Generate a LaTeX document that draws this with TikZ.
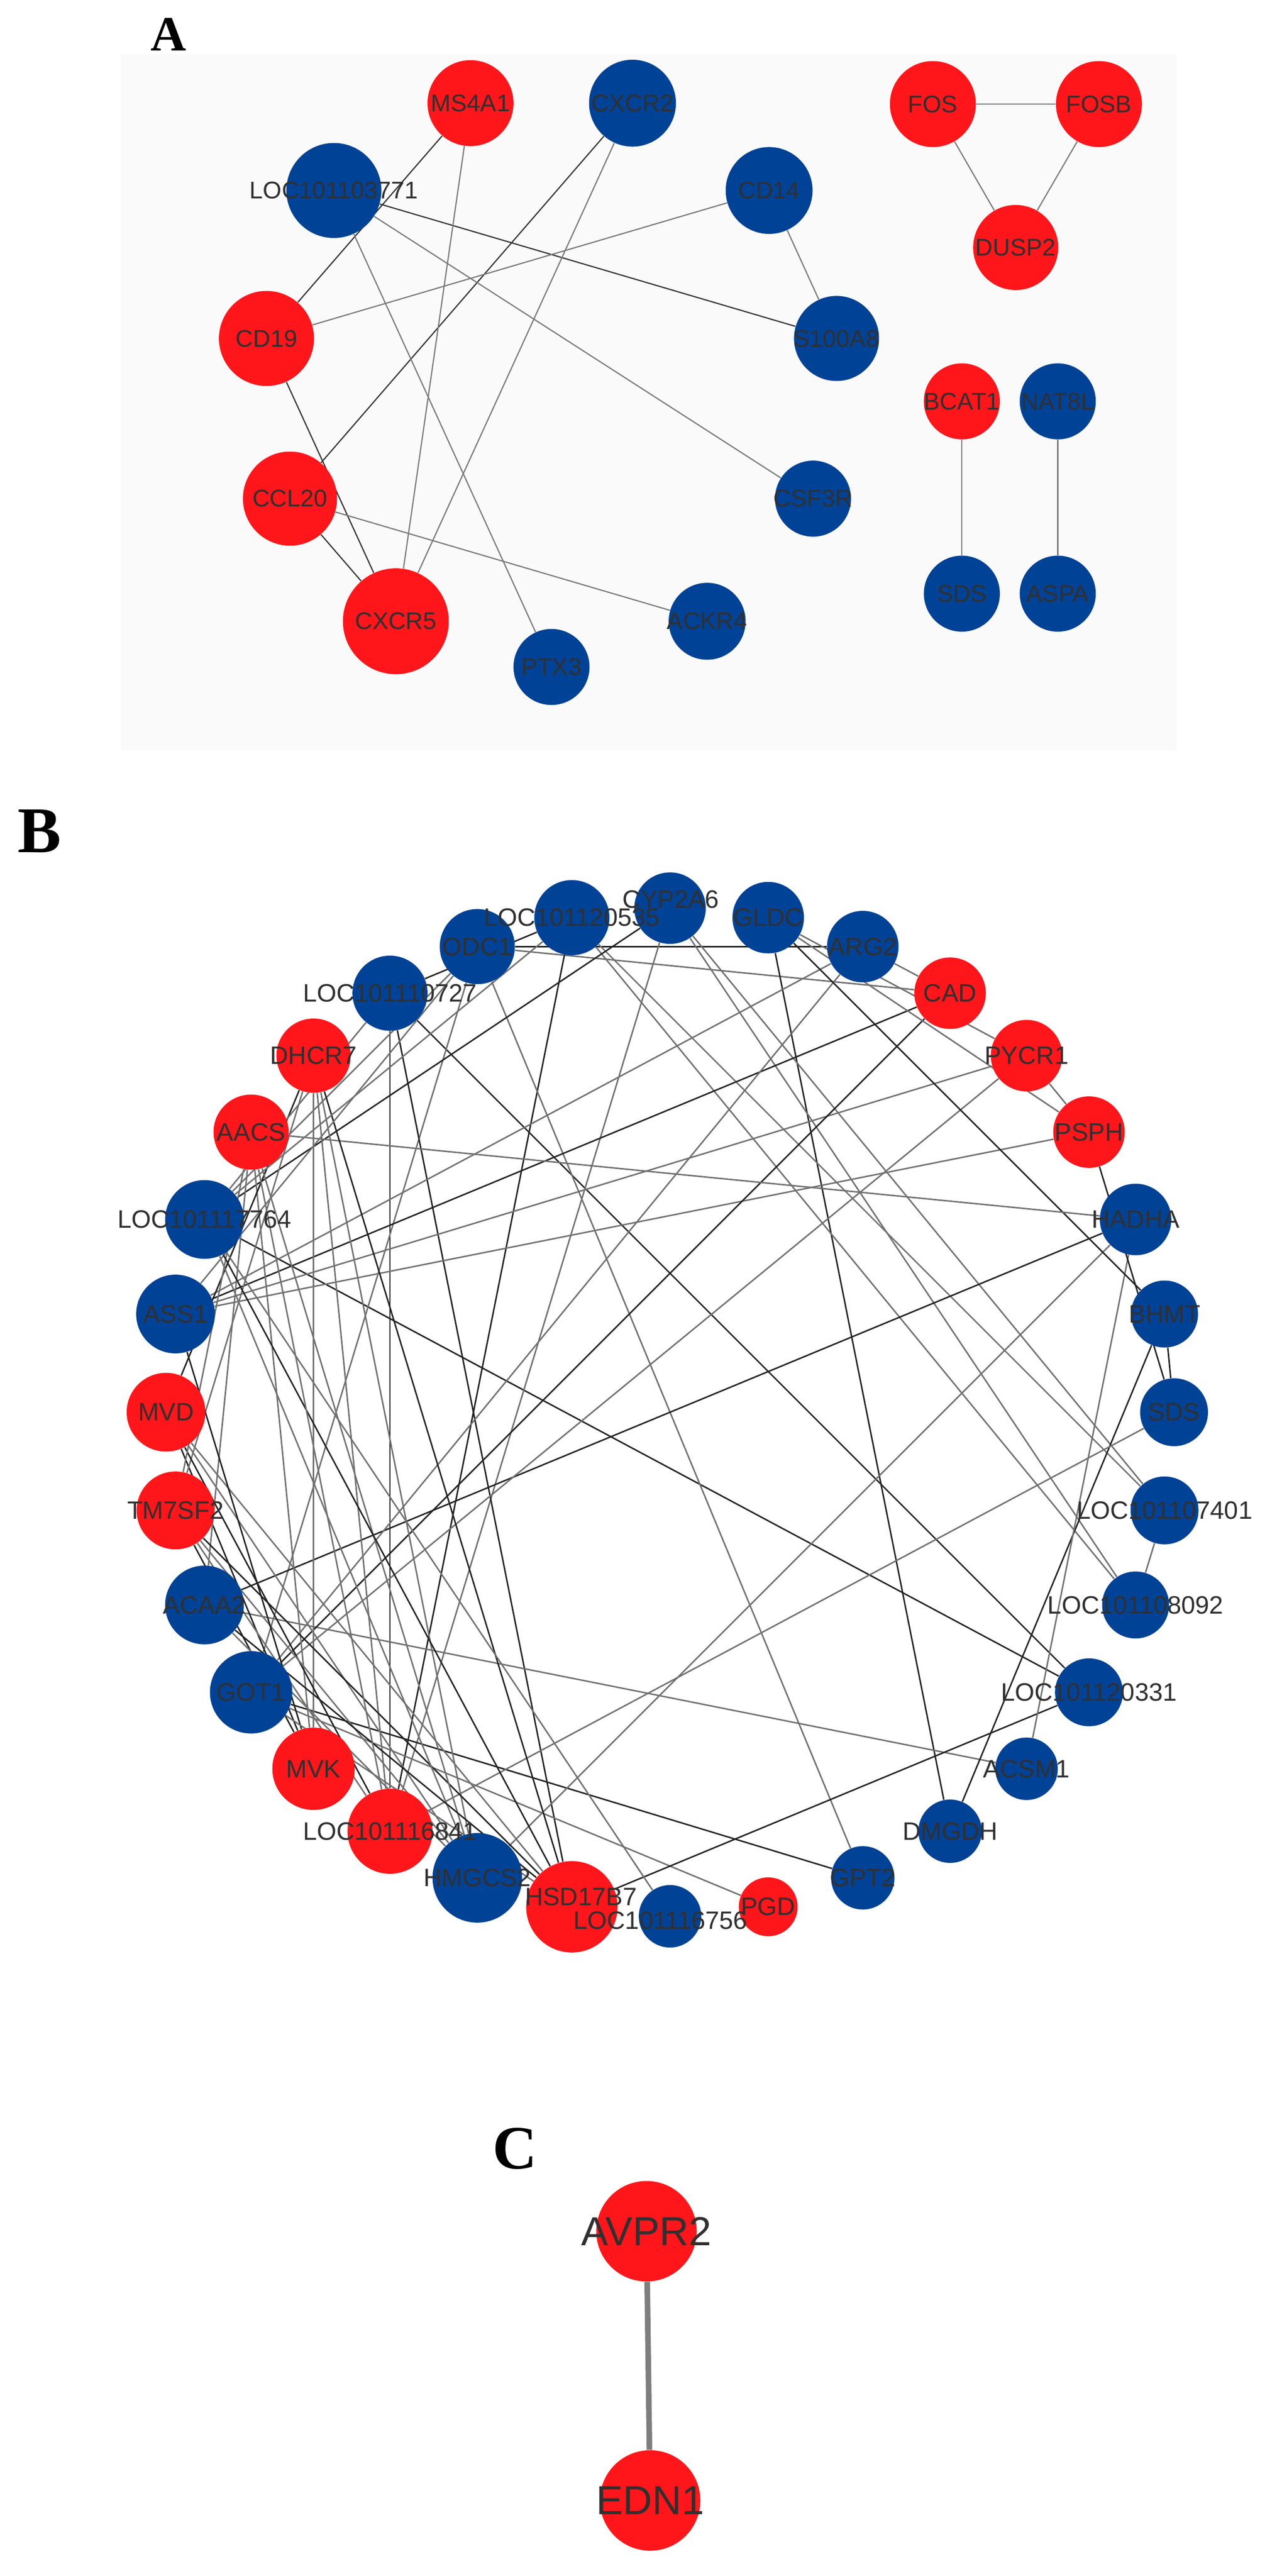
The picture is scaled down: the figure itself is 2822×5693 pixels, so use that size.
\documentclass[tikz,border=0pt]{standalone}
\usepackage{fontspec}
\newfontfamily\lsans{Liberation Sans}
\newfontfamily\lserif{Liberation Serif}
\pgfdeclarelayer{bg}
\pgfsetlayers{bg,main}
\definecolor{nred}{RGB}{255,22,26}
\definecolor{nblue}{RGB}{0,66,150}
\definecolor{lbl}{RGB}{48,48,48}
\definecolor{edark}{RGB}{34,34,34}
\definecolor{egray}{RGB}{112,112,112}
\definecolor{adark}{RGB}{50,50,50}
\definecolor{agray}{RGB}{120,120,120}
\definecolor{panelbg}{RGB}{250,250,250}
\tikzset{
  rn/.style={circle,fill=nred,draw=none,inner sep=0pt,minimum size=#1},
  bn/.style={circle,fill=nblue,draw=none,inner sep=0pt,minimum size=#1},
  labA/.style={font=\lsans\fontsize{13.3}{13.3}\selectfont,text=lbl,inner sep=0pt},
  labB/.style={font=\lsans\fontsize{13.9}{13.9}\selectfont,text=lbl,inner sep=0pt},
  labC/.style={font=\lsans\fontsize{22.4}{22.4}\selectfont,text=lbl,inner sep=0pt},
  panel/.style={font=\lserif\bfseries\fontsize{#1}{#1}\selectfont,text=black,inner sep=0pt},
  dk/.style={draw=edark,line width=0.8pt},
  gy/.style={draw=egray,line width=0.8pt},
  adk/.style={draw=adark,line width=0.65pt},
  agy/.style={draw=agray,line width=0.65pt},
  cedge/.style={draw=egray!90!white,line width=3.1pt}
}
\begin{document}
\begin{tikzpicture}[x=0.25pt,y=-0.25pt]
\useasboundingbox (0,0) rectangle (2822,5693);
\begin{pgfonlayer}{bg}
\fill[white] (0,0) rectangle (2822,5693);
\fill[panelbg] (268,120) rectangle (2600,1658);
\end{pgfonlayer}

% ---------------- Panel letters
\node[panel=27.3pt] (lA) at (373,76) {A};
\node[panel=36pt] (lB) at (87,1837) {B};
\node[panel=34pt] (lC) at (1138,4748) {C};

% ---------------- Panel A nodes
\node[rn=47.5pt] (ms4a1) at (1040,228) {};
\node[bn=48pt] (cxcr2) at (1398,228) {};
\node[bn=52.5pt] (loc771) at (738,421) {};
\node[bn=48pt] (cd14) at (1700,421) {};
\node[rn=52.5pt] (cd19) at (589,748) {};
\node[bn=47pt] (s100a8) at (1849,748) {};
\node[rn=52pt] (ccl20) at (641,1102) {};
\node[bn=42pt] (csf3r) at (1797,1102) {};
\node[rn=58.5pt] (cxcr5) at (875,1373) {};
\node[bn=42.5pt] (ackr4) at (1563,1373) {};
\node[bn=42pt] (ptx3) at (1219,1474) {};
\node[rn=47.5pt] (fos) at (2062,230) {};
\node[rn=47.5pt] (fosb) at (2429,230) {};
\node[rn=47pt] (dusp2) at (2245,547) {};
\node[rn=42pt] (bcat1) at (2126,887) {};
\node[bn=42pt] (nat8l) at (2338,887) {};
\node[bn=42pt] (sdsA) at (2126,1312) {};
\node[bn=42pt] (aspa) at (2338,1312) {};

\node[labA] (ms4a1-l) at (ms4a1) {MS4A1};
\node[labA] (cxcr2-l) at (cxcr2) {CXCR2};
\node[labA] (loc771-l) at (loc771) {LOC101103771};
\node[labA] (cd14-l) at (cd14) {CD14};
\node[labA] (cd19-l) at (cd19) {CD19};
\node[labA] (s100a8-l) at (s100a8) {S100A8};
\node[labA] (ccl20-l) at (ccl20) {CCL20};
\node[labA] (csf3r-l) at (csf3r) {CSF3R};
\node[labA] (cxcr5-l) at (cxcr5) {CXCR5};
\node[labA] (ackr4-l) at (ackr4) {ACKR4};
\node[labA] (ptx3-l) at (ptx3) {PTX3};
\node[labA] (fos-l) at (fos) {FOS};
\node[labA] (fosb-l) at (fosb) {FOSB};
\node[labA] (dusp2-l) at (dusp2) {DUSP2};
\node[labA] (bcat1-l) at (bcat1) {BCAT1};
\node[labA] (nat8l-l) at (nat8l) {NAT8L};
\node[labA] (sdsA-l) at (sdsA) {SDS};
\node[labA] (aspa-l) at (aspa) {ASPA};

\begin{pgfonlayer}{bg}
\draw[adk] (ms4a1) -- (cd19);
\draw[adk] (cxcr2) -- (ccl20);
\draw[adk] (loc771) -- (s100a8);
\draw[adk] (cd19) -- (cxcr5);
\draw[adk] (ccl20) -- (cxcr5);
\draw[agy] (ms4a1) -- (cxcr5);
\draw[agy] (cxcr2) -- (cxcr5);
\draw[agy] (loc771) -- (csf3r);
\draw[agy] (loc771) -- (ptx3);
\draw[agy] (cd14) -- (cd19);
\draw[agy] (cd14) -- (s100a8);
\draw[agy] (ccl20) -- (ackr4);
\draw[agy] (fos) -- (fosb);
\draw[agy] (fos) -- (dusp2);
\draw[agy] (fosb) -- (dusp2);
\draw[agy] (bcat1) -- (sdsA);
\draw[agy] (nat8l) -- (aspa);
\end{pgfonlayer}

% ---------------- Panel B nodes
\node[bn=39.5pt] (cyp) at (1481,2007) {};
\node[bn=39.5pt] (gldc) at (1698,2028) {};
\node[bn=39.5pt] (arg2) at (1907,2092) {};
\node[rn=39.5pt] (cad) at (2100,2195) {};
\node[rn=39.5pt] (pycr1) at (2269,2333) {};
\node[rn=39.5pt] (psph) at (2407,2502) {};
\node[bn=39.5pt] (hadha) at (2510,2695) {};
\node[bn=37pt] (bhmt) at (2574,2904) {};
\node[bn=37.5pt] (sds) at (2595,3121) {};
\node[bn=37.5pt] (l401) at (2574,3338) {};
\node[bn=37pt] (l092) at (2510,3547) {};
\node[bn=37.5pt] (l331) at (2407,3740) {};
\node[bn=34.5pt] (acsm1) at (2269,3909) {};
\node[bn=35pt] (dmgdh) at (2100,4047) {};
\node[bn=35pt] (gpt2) at (1907,4150) {};
\node[rn=32.5pt] (pgd) at (1698,4214) {};
\node[bn=34.5pt] (l756) at (1481,4235) {};
\node[rn=50.5pt] (hsd) at (1264,4214) {};
\node[bn=49.5pt] (hmgcs2) at (1055,4150) {};
\node[rn=47pt] (l841) at (862,4047) {};
\node[rn=45.5pt] (mvk) at (693,3909) {};
\node[bn=45.5pt] (got1) at (555,3740) {};
\node[bn=43.5pt] (acaa2) at (452,3547) {};
\node[rn=43pt] (tm7sf2) at (388,3338) {};
\node[rn=43.5pt] (mvd) at (367,3121) {};
\node[bn=43.5pt] (ass1) at (388,2904) {};
\node[bn=43.5pt] (l764) at (452,2695) {};
\node[rn=41.5pt] (aacs) at (555,2502) {};
\node[rn=41pt] (dhcr7) at (693,2333) {};
\node[bn=41.5pt] (l727) at (862,2195) {};
\node[bn=41.5pt] (odc1) at (1055,2092) {};
\node[bn=41.5pt] (l535) at (1264,2028) {};

\node[labB] (cyp-l) at (1483,1988) {CYP2A6};
\node[labB] (gldc-l) at (gldc) {GLDC};
\node[labB] (arg2-l) at (arg2) {ARG2};
\node[labB] (cad-l) at (cad) {CAD};
\node[labB] (pycr1-l) at (pycr1) {PYCR1};
\node[labB] (psph-l) at (psph) {PSPH};
\node[labB] (hadha-l) at (hadha) {HADHA};
\node[labB] (bhmt-l) at (bhmt) {BHMT};
\node[labB] (sds-l) at (sds) {SDS};
\node[labB] (l401-l) at (l401) {LOC101107401};
\node[labB] (l092-l) at (l092) {LOC101108092};
\node[labB] (l331-l) at (l331) {LOC101120331};
\node[labB] (acsm1-l) at (acsm1) {ACSM1};
\node[labB] (dmgdh-l) at (dmgdh) {DMGDH};
\node[labB] (gpt2-l) at (gpt2) {GPT2};
\node[labB] (pgd-l) at (pgd) {PGD};
\node[labB] (l756-l) at (1460,4244) {LOC101116756};
\node[labB] (hsd-l) at (1284,4192) {HSD17B7};
\node[labB] (hmgcs2-l) at (hmgcs2) {HMGCS2};
\node[labB] (l841-l) at (l841) {LOC101116841};
\node[labB] (mvk-l) at (mvk) {MVK};
\node[labB] (got1-l) at (got1) {GOT1};
\node[labB] (acaa2-l) at (acaa2) {ACAA2};
\node[labB] (tm7sf2-l) at (tm7sf2) {TM7SF2};
\node[labB] (mvd-l) at (mvd) {MVD};
\node[labB] (ass1-l) at (ass1) {ASS1};
\node[labB] (l764-l) at (l764) {LOC101117764};
\node[labB] (aacs-l) at (aacs) {AACS};
\node[labB] (dhcr7-l) at (dhcr7) {DHCR7};
\node[labB] (l727-l) at (l727) {LOC101110727};
\node[labB] (odc1-l) at (odc1) {ODC1};
\node[labB] (l535-l) at (l535) {LOC101120535};

\begin{pgfonlayer}{bg}
\draw[dk] (odc1) -- (arg2);
\draw[gy] (odc1) -- (cad);
\draw[dk] (l535) -- (l727);
\draw[dk] (l727) -- (l841);
\draw[dk] (l727) -- (l331);
\draw[dk] (l764) -- (l331);
\draw[dk] (gldc) -- (dmgdh);
\draw[gy] (cyp) -- (l401);
\draw[gy] (cyp) -- (l092);
\draw[gy] (l535) -- (l401);
\draw[gy] (l535) -- (l092);
\draw[dk] (l535) -- (l841);
\draw[gy] (odc1) -- (gpt2);
\draw[gy] (odc1) -- (got1);
\draw[gy] (odc1) -- (l764);
\draw[gy] (cyp) -- (l841);
\draw[dk] (cyp) -- (l764);
\draw[dk] (l727) -- (hsd);
\draw[dk] (acaa2) -- (hadha);
\draw[gy] (acaa2) -- (acsm1);
\draw[dk] (got1) -- (gpt2);
\draw[gy] (got1) -- (pgd);
\draw[dk] (hsd) -- (l331);
\draw[dk] (dmgdh) -- (bhmt);
\draw[gy] (hadha) -- (acsm1);
\draw[gy] (sds) -- (l841);
\draw[gy] (hadha) -- (hmgcs2);
\draw[gy] (l401) -- (l092);
\draw[gy] (psph) -- (ass1);
\draw[gy] (pycr1) -- (ass1);
\draw[gy] (pycr1) -- (got1);
\draw[dk] (cad) -- (ass1);
\draw[dk] (cad) -- (got1);
\draw[gy] (arg2) -- (ass1);
\draw[gy] (arg2) -- (got1);
\draw[gy] (arg2) -- (cad);
\draw[gy] (gldc) -- (pycr1);
\draw[gy] (gldc) -- (psph);
\draw[dk] (gldc) -- (bhmt);
\draw[gy] (pycr1) -- (psph);
\draw[dk] (psph) -- (sds);
\draw[gy] (aacs) -- (hadha);
\draw[dk] (bhmt) -- (sds);
\draw[gy] (dhcr7) -- (mvk);
\draw[dk] (mvd) -- (mvk);
\draw[gy] (aacs) -- (mvk);
\draw[gy] (dhcr7) -- (l841);
\draw[gy] (dhcr7) -- (hmgcs2);
\draw[dk] (dhcr7) -- (hsd);
\draw[dk] (dhcr7) -- (mvd);
\draw[gy] (dhcr7) -- (tm7sf2);
\draw[gy] (aacs) -- (acaa2);
\draw[gy] (l764) -- (l727);
\draw[gy] (odc1) -- (ass1);
\draw[gy] (l535) -- (l764);
\draw[dk] (mvd) -- (l841);
\draw[gy] (mvd) -- (hmgcs2);
\draw[gy] (mvd) -- (hsd);
\draw[dk] (tm7sf2) -- (mvk);
\draw[gy] (tm7sf2) -- (l841);
\draw[gy] (tm7sf2) -- (hmgcs2);
\draw[dk] (tm7sf2) -- (hsd);
\draw[gy] (aacs) -- (hmgcs2);
\draw[gy] (aacs) -- (tm7sf2);
\draw[dk] (l764) -- (hsd);
\draw[gy] (l764) -- (l756);
\draw[gy] (l764) -- (hmgcs2);
\draw[dk] (ass1) -- (mvk);
\draw[gy] (acaa2) -- (hmgcs2);
\draw[dk] (acaa2) -- (hsd);
\draw[gy] (aacs) -- (l841);
\draw[gy] (got1) -- (hsd);
\end{pgfonlayer}

% ---------------- Panel C
\node[rn=55.5pt] (avpr2) at (1429,4931) {};
\node[rn=55.5pt] (edn1) at (1437,5526) {};
\node[labC] (avpr2-l) at (avpr2) {AVPR2};
\node[labC] (edn1-l) at (edn1) {EDN1};
\begin{pgfonlayer}{bg}
\draw[cedge] (avpr2) -- (edn1);
\end{pgfonlayer}
\end{tikzpicture}
\end{document}
